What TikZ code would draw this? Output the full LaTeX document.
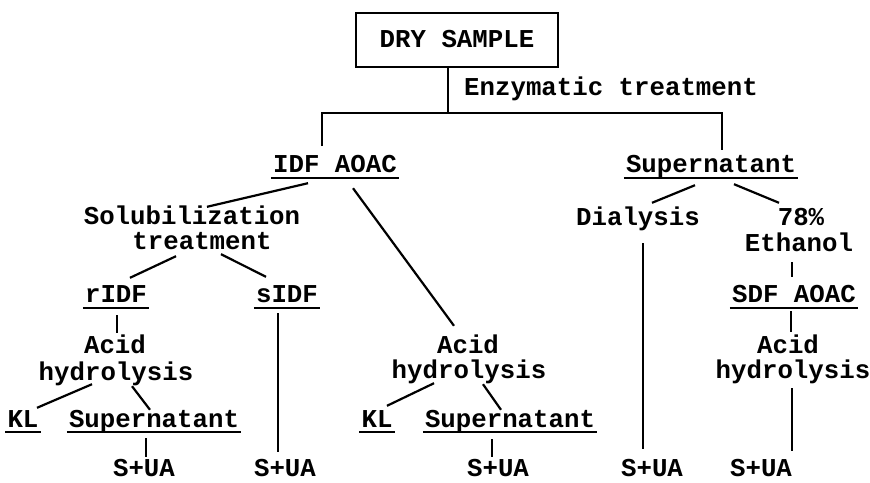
\documentclass[tikz,border=0pt]{standalone}
\usepackage{fontspec}
\setmonofont{Liberation Mono}
\usetikzlibrary{calc}
\tikzset{
  link/.style={line width=2.2pt},
  lbl/.style={font=\ttfamily\bfseries\fontsize{25.75}{26}\selectfont, inner sep=0pt, text height=15pt, text depth=0pt, anchor=base},
  ul/.style={lbl, inner xsep=2pt, text depth=5pt, append after command={(\tikzlastnode.south west) edge[link] (\tikzlastnode.south east)}},
}
\begin{document}
\begin{tikzpicture}[x=1pt,y=-1pt]
  \useasboundingbox (0,0) rectangle (870,482);
  \node[lbl, anchor=center, draw, link, minimum width=202pt, minimum height=54pt] (dry) at (457,40) {DRY SAMPLE};
  \node[lbl] (enz) at (611,95.5) {Enzymatic treatment};
  \coordinate (split) at (448,113);
  \coordinate (dropL) at (322,146);
  \coordinate (dropR) at (722,150);
  \node[ul] (idf) at (335,172.5) {IDF AOAC};
  \node[ul] (supR) at (711,172.5) {Supernatant};
  \node[lbl] (sol) at (192,224.5) {Solubilization};
  \node[lbl] (trt) at (202,249.5) {treatment};
  \node[ul] (ridf) at (116,302.5) {rIDF};
  \node[ul] (sidf) at (287,302.5) {sIDF};
  \node[lbl] (acidL) at (115,353.5) {Acid};
  \node[lbl] (hydL) at (116,380) {hydrolysis};
  \node[ul] (klL) at (23,427) {KL};
  \node[ul] (supL) at (154,427) {Supernatant};
  \node[lbl] (suaL) at (144,476) {S+UA};
  \node[lbl] (suaS) at (285,476) {S+UA};
  \node[lbl] (acidM) at (468,353.5) {Acid};
  \node[lbl] (hydM) at (469,378.5) {hydrolysis};
  \node[ul] (klM) at (377,427) {KL};
  \node[ul] (supM) at (510,427) {Supernatant};
  \node[lbl] (suaM) at (498,476) {S+UA};
  \node[lbl] (dia) at (638,225.5) {Dialysis};
  \node[lbl] (pct) at (801,225.5) {78\%};
  \node[lbl] (eth) at (799,251.5) {Ethanol};
  \node[ul] (sdf) at (794,302.5) {SDF AOAC};
  \node[lbl] (acidR) at (788,353.5) {Acid};
  \node[lbl] (hydR) at (793,378.5) {hydrolysis};
  \node[lbl] (suaD) at (652,476) {S+UA};
  \node[lbl] (suaR) at (761,476) {S+UA};

  \draw[link] (dry.south -| split) -- (split);
  \draw[link] (dropL) |- (split) -| (dropR);
  \draw[link] ($(idf.south)+(-27,5.5)$) -- ($(sol.north)+(15,-2.5)$);
  \draw[link] ($(idf.south)+(18,10.5)$) -- ($(acidM.north)+(-14,-12.5)$);
  \draw[link] ($(trt.south)+(-26,6.5)$) -- ($(ridf.north)+(14,-9.5)$);
  \draw[link] ($(trt.south)+(19,4.5)$) -- ($(sidf.north)+(-21,-10.5)$);
  \draw[link] ($(ridf.south)+(1,7.5)$) -- ($(acidL.north)+(2,-5.5)$);
  \draw[link] ($(sidf.south)+(-9,5.5)$) -- ($(suaS.north)+(-7,-9)$);
  \draw[link] ($(hydL.south)+(-24,4)$) -- ($(klL.north)+(14,-4)$);
  \draw[link] ($(hydL.south)+(16,6)$) -- ($(supL.north)+(-4,-2)$);
  \draw[link] ($(supL.south)+(-8,6)$) -- ($(suaL.north)+(2,-4)$);
  \draw[link] ($(hydM.south)+(-35,4.5)$) -- ($(klM.north)+(10,-6)$);
  \draw[link] ($(hydM.south)+(14,5.5)$) -- ($(supM.north)+(-9,-2)$);
  \draw[link] ($(supM.south)+(-18,7)$) -- ($(suaM.north)+(-6,-4)$);
  \draw[link] ($(supR.south)+(-16,7.5)$) -- ($(dia.north)+(14,-7.5)$);
  \draw[link] ($(supR.south)+(23,6.5)$) -- ($(pct.north)+(-22,-7.5)$);
  \draw[link] ($(dia.south)+(5,17.5)$) -- ($(suaD.north)+(-9,-12)$);
  \draw[link] ($(eth.south)+(-7,10.5)$) -- ($(sdf.north)+(-2,-10.5)$);
  \draw[link] ($(sdf.south)+(-3,3.5)$) -- ($(acidR.north)+(3,-6.5)$);
  \draw[link] ($(hydR.south)+(-1,9.5)$) -- ($(suaR.north)+(31,-10)$);
\end{tikzpicture}
\end{document}
